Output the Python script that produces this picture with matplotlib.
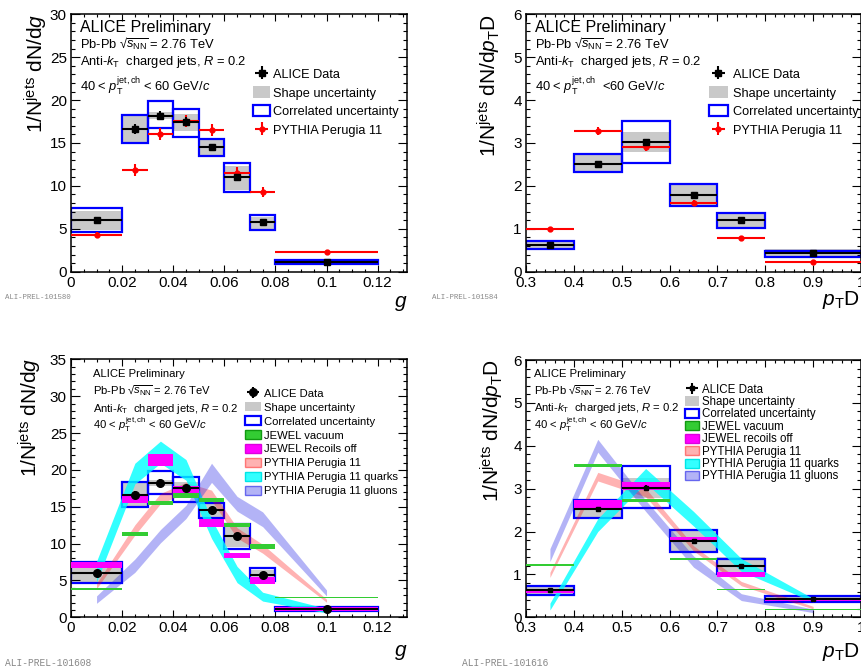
import matplotlib
matplotlib.use('Agg')
import matplotlib.pyplot as plt
import numpy as np
from matplotlib.patches import Patch
from matplotlib.ticker import MultipleLocator, FuncFormatter

plt.rcParams.update({
    'font.family': ['Liberation Sans', 'DejaVu Sans'],
    'mathtext.fontset': 'custom',
    'mathtext.rm': 'Liberation Sans',
    'mathtext.it': 'Liberation Sans:italic',
    'mathtext.bf': 'Liberation Sans:bold',
    'mathtext.sf': 'Liberation Sans',
})

# ---------------- g (girth) distribution ----------------
g_lo = [0.00, 0.02, 0.03, 0.04, 0.05, 0.06, 0.07, 0.08]
g_hi = [0.02, 0.03, 0.04, 0.05, 0.06, 0.07, 0.08, 0.12]
g_x = [0.01, 0.025, 0.035, 0.045, 0.055, 0.065, 0.075, 0.10]
g_data = [6.0, 16.6, 18.2, 17.5, 14.5, 11.0, 5.75, 1.15]
g_stat = [0.2, 0.6, 0.5, 0.5, 0.4, 0.4, 0.2, 0.1]
g_shape_lo = [4.85, 14.95, 17.75, 16.4, 13.6, 9.5, 4.9, 0.9]
g_shape_hi = [7.1, 18.25, 18.65, 18.4, 15.4, 12.35, 6.4, 1.35]
g_corr_lo = [4.6, 15.0, 16.7, 15.7, 13.5, 9.25, 4.9, 0.85]
g_corr_hi = [7.45, 18.3, 19.9, 19.0, 15.5, 12.7, 6.65, 1.4]
g_pythia = [4.24, 11.85, 16.1, 17.6, 16.55, 11.45, 9.3, 2.25]
g_pythia_err = [0.35, 0.7, 0.7, 0.7, 0.7, 0.7, 0.6, 0.2]
g_jewel_vac = [3.8, 11.3, 15.5, 16.55, 15.9, 12.5, 9.6, 2.65]
g_jewel_vac_err = [0.15, 0.3, 0.3, 0.3, 0.3, 0.3, 0.3, 0.05]
g_jewel_rec = [7.1, 15.95, 21.35, 17.35, 12.85, 8.35, 5.0, 1.1]
g_jewel_rec_err = [0.35, 0.5, 0.85, 0.45, 0.55, 0.35, 0.5, 0.3]
g_quarks = [6.2, 19.5, 22.4, 20.0, 12.0, 5.8, 2.8, 0.9]
g_quarks_err = [1.4, 1.4, 1.5, 1.4, 1.3, 1.1, 0.6, 0.3]
g_gluons = [2.4, 7.0, 11.0, 14.3, 19.6, 15.4, 13.3, 3.3]
g_gluons_err = [0.5, 0.9, 0.9, 0.9, 1.3, 1.0, 1.0, 0.4]

# ---------------- pTD distribution ----------------
p_lo = [0.3, 0.4, 0.5, 0.6, 0.7, 0.8]
p_hi = [0.4, 0.5, 0.6, 0.7, 0.8, 1.0]
p_x = [0.35, 0.45, 0.55, 0.65, 0.75, 0.9]
p_data = [0.63, 2.52, 3.02, 1.78, 1.20, 0.43]
p_stat = [0.03, 0.05, 0.07, 0.05, 0.04, 0.02]
p_shape_lo = [0.52, 2.33, 2.78, 1.53, 0.99, 0.35]
p_shape_hi = [0.74, 2.72, 3.26, 2.02, 1.40, 0.52]
p_corr_lo = [0.52, 2.32, 2.54, 1.53, 1.01, 0.35]
p_corr_hi = [0.72, 2.74, 3.52, 2.04, 1.37, 0.49]
p_pythia = [0.99, 3.28, 2.91, 1.61, 0.785, 0.225]
p_pythia_err = [0.06, 0.1, 0.1, 0.06, 0.05, 0.03]
p_jewel_vac = [1.22, 3.54, 2.73, 1.36, 0.65, 0.19]
p_jewel_vac_err = [0.02, 0.03, 0.04, 0.02, 0.02, 0.01]
p_jewel_rec = [0.6, 2.63, 3.06, 1.82, 1.0, 0.41]
p_jewel_rec_err = [0.04, 0.1, 0.1, 0.06, 0.05, 0.04]
p_quarks = [0.25, 2.15, 3.3, 2.3, 1.22, 0.4]
p_quarks_err = [0.08, 0.15, 0.17, 0.17, 0.15, 0.04]
p_gluons = [1.45, 4.0, 2.6, 1.3, 0.47, 0.15]
p_gluons_err = [0.15, 0.15, 0.13, 0.13, 0.08, 0.04]

labels_top = ['ALICE Data', 'Shape uncertainty', 'Correlated uncertainty', 'PYTHIA Perugia 11']
labels_bl = ['ALICE Data', 'Shape uncertainty', 'Correlated uncertainty', 'JEWEL vacuum',
             'JEWEL Recoils off', 'PYTHIA Perugia 11', 'PYTHIA Perugia 11 quarks',
             'PYTHIA Perugia 11 gluons']
labels_br = ['ALICE Data', 'Shape uncertainty', 'Correlated uncertainty', 'JEWEL vacuum',
             'JEWEL recoils off', 'PYTHIA Perugia 11', 'PYTHIA Perugia 11 quarks',
             'PYTHIA Perugia 11 gluons']

GRAY = '#c9c9c9'
BLUE = '#0000ff'
RED = '#ff0000'
GREEN = '#33cc33'
MAG = '#ff00ff'
PINK = (1, 0, 0, 0.3)
CYAN = (0, 1, 1, 0.8)
LAV = (0.1, 0.1, 0.9, 0.33)

W, H = 862, 671
fig = plt.figure(figsize=(W / 100, H / 100), dpi=100)


def px_axes(x0, x1, ytop, ybot):
    return fig.add_axes([x0 / W, 1 - ybot / H, (x1 - x0) / W, (ybot - ytop) / H])


def style(ax, xlim, ylim, xmaj, xmin, ymaj, ymin):
    ax.set_xlim(*xlim)
    ax.set_ylim(*ylim)
    ax.xaxis.set_major_locator(MultipleLocator(xmaj))
    ax.xaxis.set_minor_locator(MultipleLocator(xmin))
    ax.yaxis.set_major_locator(MultipleLocator(ymaj))
    ax.yaxis.set_minor_locator(MultipleLocator(ymin))
    fmt = FuncFormatter(lambda v, p: '%g' % round(v, 6))
    ax.xaxis.set_major_formatter(fmt)
    ax.yaxis.set_major_formatter(fmt)
    ax.tick_params(which='both', direction='in', top=True, right=True,
                   labelsize=11, width=0.8)
    ax.tick_params(axis='x', which='major', length=5, pad=3)
    ax.tick_params(axis='x', which='minor', length=2.5)
    ax.tick_params(axis='y', which='major', length=6.5, pad=3)
    ax.tick_params(axis='y', which='minor', length=3.2)
    for s in ax.spines.values():
        s.set_linewidth(1.1)


def boxes(ax, lo, hi, slo, shi, clo, chi):
    lo = np.array(lo); hi = np.array(hi)
    ax.bar(lo, np.subtract(shi, slo), width=hi - lo, bottom=slo, align='edge',
           color=GRAY, edgecolor='none', zorder=1)
    ax.bar(lo, np.subtract(chi, clo), width=hi - lo, bottom=clo, align='edge',
           fill=False, edgecolor=BLUE, linewidth=1.6, zorder=2)


def jewel(ax, lo, hi, vals, errs, color, z):
    lo = np.array(lo); hi = np.array(hi)
    v = np.array(vals); e = np.array(errs)
    ax.bar(lo, 2 * e, width=hi - lo, bottom=v - e, align='edge', color=color,
           edgecolor='none', zorder=z)


def band(ax, x, vals, errs, color, z):
    v = np.array(vals); e = np.array(errs)
    ax.fill_between(x, v - e, v + e, color=color, linewidth=0, zorder=z)


def data_points(ax, x, lo, hi, vals, stat, marker, ms, color='k', lw=1.5, z=6):
    x = np.array(x)
    return ax.errorbar(x, vals, xerr=[x - np.array(lo), np.array(hi) - x], yerr=stat,
                       fmt=marker, color=color, ms=ms, elinewidth=lw, capsize=0,
                       zorder=z)


SQRT = r'Pb-Pb √$\overline{s_{\rm NN}}$ = 2.76 TeV'


def info_text(ax, x, ys, fs_big, fs, pt_line):
    ax.text(x, ys[0], 'ALICE Preliminary', transform=ax.transAxes, fontsize=fs_big,
            va='baseline')
    ax.text(x, ys[1], SQRT, transform=ax.transAxes, fontsize=fs, va='baseline')
    ax.text(x, ys[2], r'Anti-$k_{\rm T}$  charged jets, $R$ = 0.2', transform=ax.transAxes,
            fontsize=fs, va='baseline')
    ax.text(x, ys[3], pt_line, transform=ax.transAxes, fontsize=fs, va='baseline')


ylab_g = r'1/N$^{\rm jets}$ dN/d$g$'
ylab_p = r'1/N$^{\rm jets}$ dN/d$p_{\rm T}$D'
pt_std = r'40 < $p_{\rm T}^{\rm jet,ch}$ < 60 GeV/$c$'
pt_alt = r'40 < $p_{\rm T}^{\rm jet,ch}$  <60 GeV/$c$'

# ================= top-left =================
ax1 = px_axes(71, 407, 14.3, 271.7)
style(ax1, (0, 0.1315), (0, 30), 0.02, 0.005, 5, 1)
boxes(ax1, g_lo, g_hi, g_shape_lo, g_shape_hi, g_corr_lo, g_corr_hi)
hp = data_points(ax1, g_x, g_lo, g_hi, g_pythia, g_pythia_err, 'o', 3.5, color=RED, z=5)
hd = data_points(ax1, g_x, g_lo, g_hi, g_data, g_stat, 's', 4.5)
info_text(ax1, 0.027, [0.932, 0.869, 0.803, 0.703], 11.5, 9.3, pt_std)
h_shape = Patch(facecolor=GRAY, edgecolor='none')
h_corr = Patch(facecolor='white', edgecolor=BLUE, linewidth=1.6)
ax1.legend([hd, h_shape, h_corr, hp], labels_top, loc='upper left',
           bbox_to_anchor=(0.542, 0.792), frameon=False, fontsize=9.2, borderpad=0,
           handlelength=1.35, handleheight=1.0, handletextpad=0.23, labelspacing=0.43,
           borderaxespad=0)

# ================= top-right =================
ax2 = px_axes(526, 861, 14.3, 271.7)
style(ax2, (0.3, 1.0), (0, 6), 0.1, 0.02, 1, 0.2)
boxes(ax2, p_lo, p_hi, p_shape_lo, p_shape_hi, p_corr_lo, p_corr_hi)
hp2 = data_points(ax2, p_x, p_lo, p_hi, p_pythia, p_pythia_err, 'o', 3.5, color=RED, z=5)
hd2 = data_points(ax2, p_x, p_lo, p_hi, p_data, p_stat, 's', 4.5)
info_text(ax2, 0.027, [0.932, 0.869, 0.803, 0.703], 11.5, 9.3, pt_alt)
ax2.legend([hd2, h_shape, h_corr, hp2], labels_top, loc='upper left',
           bbox_to_anchor=(0.546, 0.792), frameon=False, fontsize=9.2, borderpad=0,
           handlelength=1.5, handleheight=1.0, handletextpad=0.35, labelspacing=0.43,
           borderaxespad=0)

# ================= bottom-left =================
ax3 = px_axes(71, 407, 359.3, 617.3)
style(ax3, (0, 0.1315), (0, 35), 0.02, 0.005, 5, 1)
boxes(ax3, g_lo, g_hi, g_shape_lo, g_shape_hi, g_corr_lo, g_corr_hi)
band(ax3, g_x, g_pythia, g_pythia_err, PINK, 3)
band(ax3, g_x, g_quarks, g_quarks_err, CYAN, 3.1)
band(ax3, g_x, g_gluons, g_gluons_err, LAV, 3.2)
jewel(ax3, g_lo, g_hi, g_jewel_vac, g_jewel_vac_err, GREEN, 4)
jewel(ax3, g_lo, g_hi, g_jewel_rec, g_jewel_rec_err, MAG, 4.1)
hd3 = data_points(ax3, g_x, g_lo, g_hi, g_data, g_stat, 'o', 5.5)
info_text(ax3, 0.065, [0.933, 0.864, 0.797, 0.730], 8.1, 8.1, pt_std)
h_vac = Patch(facecolor=GREEN, edgecolor='#119911', linewidth=1)
h_rec = Patch(facecolor=MAG, edgecolor='#dd00dd', linewidth=1)
h_pink = Patch(facecolor=PINK, edgecolor=(1, 0, 0, 0.45), linewidth=1)
h_cyan = Patch(facecolor=CYAN, edgecolor=(0, 0.9, 0.9, 1), linewidth=1)
h_lav = Patch(facecolor=LAV, edgecolor=(0.1, 0.1, 0.9, 0.6), linewidth=1)
ax3.legend([hd3, h_shape, h_corr, h_vac, h_rec, h_pink, h_cyan, h_lav], labels_bl,
           loc='upper left', bbox_to_anchor=(0.518, 0.888), frameon=False, fontsize=8.1,
           borderpad=0, handlelength=1.42, handleheight=0.9, handletextpad=0.27,
           labelspacing=0.30, borderaxespad=0)

# ================= bottom-right =================
ax4 = px_axes(526, 861, 360, 617.3)
style(ax4, (0.3, 1.0), (0, 6), 0.1, 0.02, 1, 0.2)
boxes(ax4, p_lo, p_hi, p_shape_lo, p_shape_hi, p_corr_lo, p_corr_hi)
band(ax4, p_x, p_pythia, p_pythia_err, PINK, 3)
band(ax4, p_x, p_quarks, p_quarks_err, CYAN, 3.1)
band(ax4, p_x, p_gluons, p_gluons_err, LAV, 3.2)
jewel(ax4, p_lo, p_hi, p_jewel_vac, p_jewel_vac_err, GREEN, 4)
jewel(ax4, p_lo, p_hi, p_jewel_rec, p_jewel_rec_err, MAG, 4.1)
hd4 = data_points(ax4, p_x, p_lo, p_hi, p_data, p_stat, 's', 3.5)
info_text(ax4, 0.024, [0.935, 0.867, 0.800, 0.732], 8.1, 8.1, pt_std)
ax4.legend([hd4, h_shape, h_corr, h_vac, h_rec, h_pink, h_cyan, h_lav], labels_br,
           loc='upper left', bbox_to_anchor=(0.475, 0.908), frameon=False, fontsize=8.3,
           borderpad=0, handlelength=1.2, handleheight=0.85, handletextpad=0.25,
           labelspacing=0.035, borderaxespad=0)

# ================= axis titles =================
yl = dict(rotation=90, ha='center', va='top', fontsize=15)
fig.text(36 / W, 1 - 14 / H, ylab_g, **yl)
fig.text(489 / W, 1 - 14 / H, ylab_p, **yl)
fig.text(30 / W, 1 - 358 / H, ylab_g, **yl)
fig.text(492 / W, 1 - 359 / H, ylab_p, **yl)
xl = dict(ha='right', va='center', fontsize=15)
fig.text(407 / W, 1 - 303.5 / H, r'$g$', **xl)
fig.text(860 / W, 1 - 300 / H, r'$p_{\rm T}$D', **xl)
fig.text(407 / W, 1 - 652 / H, r'$g$', **xl)
fig.text(860 / W, 1 - 652 / H, r'$p_{\rm T}$D', **xl)

# ================= watermarks =================
wm = dict(family=['Liberation Mono', 'DejaVu Sans Mono'], color='#888888', va='center')
fig.text(5 / W, 1 - 297 / H, 'ALI-PREL-101580', fontsize=5.3, **wm)
fig.text(432 / W, 1 - 297 / H, 'ALI-PREL-101584', fontsize=5.3, **wm)
fig.text(5 / W, 1 - 663 / H, 'ALI-PREL-101608', fontsize=6.9, **wm)
fig.text(462 / W, 1 - 663 / H, 'ALI-PREL-101616', fontsize=6.9, **wm)

fig.savefig('out.png', dpi=100)
